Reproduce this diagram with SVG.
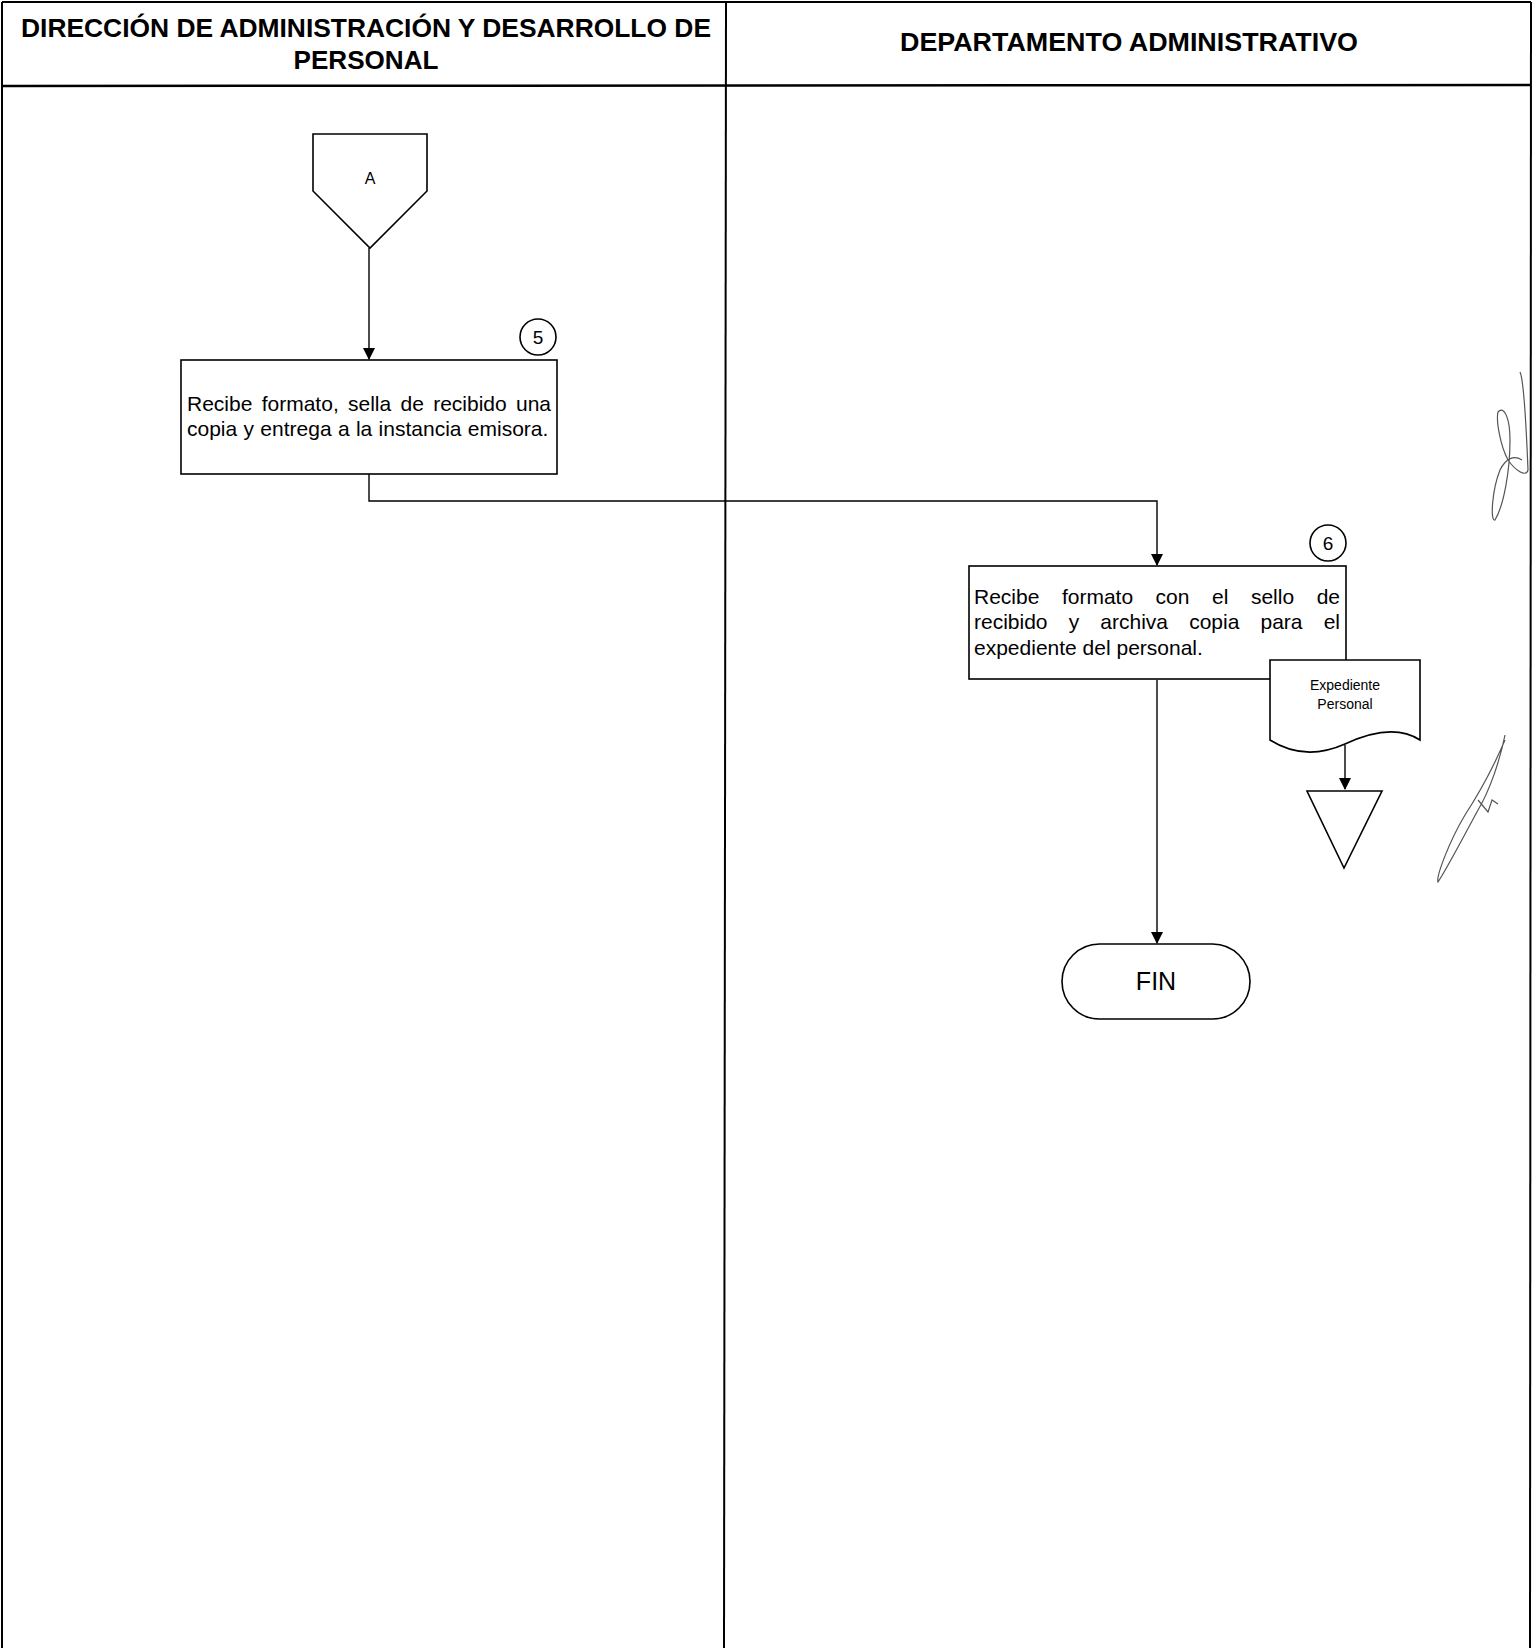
<svg xmlns="http://www.w3.org/2000/svg" width="1540" height="1648" viewBox="0 0 1540 1648">
<style>
.frame{fill:none;stroke:#000;stroke-width:2}
.shape{fill:#fff;stroke:#000;stroke-width:1.6}
.conn{fill:none;stroke:#000;stroke-width:1.4}
.hdr{font-family:"Liberation Sans",Arial,sans-serif;font-weight:bold;font-size:25px;fill:#000}
.txt{font-family:"Liberation Sans",Arial,sans-serif;font-size:21px;fill:#000}
.sm{font-family:"Liberation Sans",Arial,sans-serif;font-size:15px;fill:#000}
.sig{fill:none;stroke:#555;stroke-width:1.2}
</style>
<defs>
<marker id="ah" markerWidth="12" markerHeight="14" refX="11" refY="6" orient="auto" markerUnits="userSpaceOnUse">
<path d="M0,0 L12,6 L0,12 Z" fill="#000"/>
</marker>
</defs>
<rect width="1540" height="1648" fill="#fff"/>
<g id="lanes">
<line class="frame" x1="2" y1="2" x2="1531" y2="2"/>
<line class="frame" x1="2" y1="2" x2="2" y2="1648"/>
<line class="frame" x1="1531" y1="2" x2="1530" y2="1648"/>
<line class="frame" x1="726" y1="2" x2="724" y2="1648"/>
<line class="frame" x1="2" y1="86" x2="1531" y2="85" style="stroke-width:2.5"/>
<text class="hdr" x="366" y="37" text-anchor="middle" textLength="690" lengthAdjust="spacingAndGlyphs">DIRECCIÓN DE ADMINISTRACIÓN Y DESARROLLO DE</text>
<text class="hdr" x="366" y="69" text-anchor="middle" textLength="145" lengthAdjust="spacingAndGlyphs">PERSONAL</text>
<text class="hdr" x="1129" y="51" text-anchor="middle" textLength="458" lengthAdjust="spacingAndGlyphs">DEPARTAMENTO ADMINISTRATIVO</text>
</g>
<g id="connectors">
<line class="conn" x1="369" y1="248" x2="369" y2="359" marker-end="url(#ah)"/>
<polyline class="conn" points="369,474 369,501 1157,501 1157,565" marker-end="url(#ah)"/>
<line class="conn" x1="1157" y1="680" x2="1157" y2="943" marker-end="url(#ah)"/>
<line class="conn" x1="1345" y1="745" x2="1345" y2="789" marker-end="url(#ah)"/>
</g>
<g id="node-A">
<path class="shape" d="M313,134 L427,134 L427,191 L370,248 L313,191 Z"/>
<text class="sm" x="370" y="184" text-anchor="middle" style="font-size:16px">A</text>
</g>
<g id="node-5">
<rect class="shape" x="181" y="360" width="376" height="114"/>
<text class="txt" y="411"><tspan x="187">Recibe</tspan><tspan x="261.7">formato,</tspan><tspan x="348">sella</tspan><tspan x="400.5">de</tspan><tspan x="433.2">recibido</tspan></text>
<text class="txt" x="551" y="411" text-anchor="end">una</text>
<text class="txt" x="187" y="436" word-spacing="0.5">copia y entrega a la instancia emisora.</text>
<circle class="shape" cx="538" cy="337" r="18"/>
<text class="txt" x="538" y="344" text-anchor="middle" style="font-size:19px">5</text>
</g>
<g id="node-6">
<rect class="shape" x="969" y="566" width="377" height="113"/>
<text class="txt" y="604"><tspan x="974">Recibe</tspan><tspan x="1061.9">formato</tspan><tspan x="1155.6">con</tspan><tspan x="1212">el</tspan><tspan x="1250.9">sello</tspan></text>
<text class="txt" x="1340" y="604" text-anchor="end">de</text>
<text class="txt" y="629"><tspan x="974">recibido</tspan><tspan x="1068.7">y</tspan><tspan x="1100.3">archiva</tspan><tspan x="1189.2">copia</tspan><tspan x="1260.5">para</tspan></text>
<text class="txt" x="1340" y="629" text-anchor="end">el</text>
<text class="txt" x="974" y="655">expediente del personal.</text>
<circle class="shape" cx="1328" cy="543" r="18"/>
<text class="txt" x="1328" y="550" text-anchor="middle" style="font-size:19px">6</text>
</g>
<g id="node-doc">
<path class="shape" d="M1270,660 L1420,660 L1420,740 C1400,727 1375,730 1345,744 C1318,756 1292,754 1270,740 Z"/>
<text class="sm" x="1345" y="690" text-anchor="middle" style="font-size:14px">Expediente</text>
<text class="sm" x="1345" y="709" text-anchor="middle" style="font-size:14px">Personal</text>
</g>
<g id="node-archive">
<path class="shape" d="M1307,791 L1382,791 L1344,868 Z"/>
</g>
<g id="node-fin">
<rect class="shape" x="1062" y="944" width="188" height="75" rx="37.5" ry="37.5"/>
<text class="txt" x="1156" y="990" text-anchor="middle" style="font-size:25px">FIN</text>
</g>
<g id="signatures">
<path class="sig" d="M1520,372 C1524,380 1526,420 1528,470 C1526,478 1515,470 1508,460 C1500,445 1496,420 1498,412 C1504,405 1510,418 1510,440 C1510,470 1504,505 1495,520 C1490,522 1492,490 1500,470 C1506,458 1514,455 1522,460"/>
<path class="sig" d="M1505,735 C1500,760 1490,790 1478,810 C1462,840 1445,872 1438,882 C1436,876 1450,840 1465,815 C1478,795 1490,775 1505,740 M1478,800 L1488,812 L1492,800 L1498,804"/>
</g>
</svg>
